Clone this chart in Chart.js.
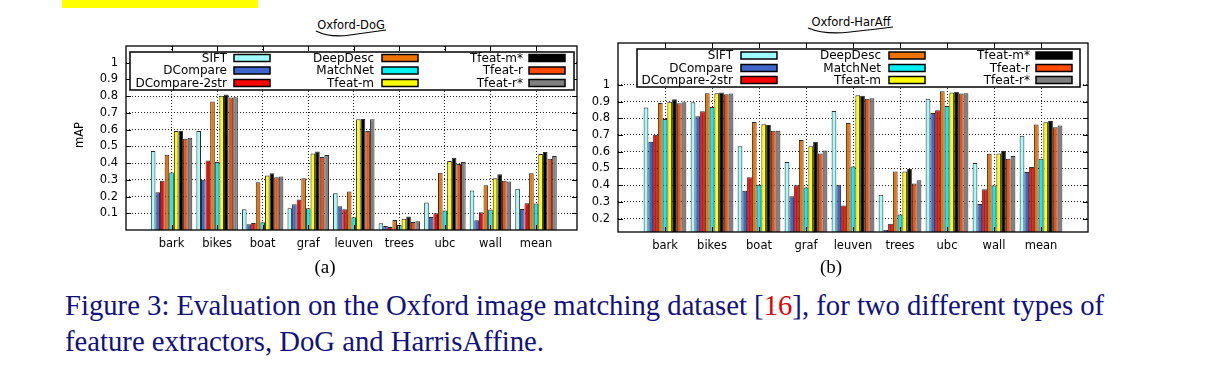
<!DOCTYPE html>
<html>
<head>
<meta charset="utf-8">
<script src="https://cdn.jsdelivr.net/npm/chart.js@4"></script>
<style>
  body { margin: 0; width: 1210px; height: 379px; background: #fff; position: relative; overflow: hidden; font-family: "DejaVu Sans", sans-serif; }
  canvas { position: absolute; top: 0; }
  #dog { left: 0; }
  #har { left: 580px; }
  .ttl { position: absolute; font-size: 11.5px; color: #000; transform: translateX(-50%); white-space: nowrap; }
  .sub { position: absolute; font-family: "Liberation Serif", serif; font-size: 19px; transform: translateX(-50%); }
  #cap { position: absolute; left: 65px; top: 287px; font-family: "Liberation Serif", serif; font-size: 28.7px; line-height: 36px; color: #12127a; white-space: nowrap; }
  #cap .ref { color: #e00000; }
  #hl { position: absolute; left: 62px; top: 0; width: 196px; height: 8px; background: #ffff00; }
</style>
</head>
<body>
<div id="hl"></div>
<div class="ttl" style="left:351px;top:18px">Oxford-DoG</div>
<div class="ttl" style="left:851px;top:15px">Oxford-HarAff</div>
<svg width="1210" height="50" style="position:absolute;left:0;top:0">
  <path d="M316 31 Q 330 38 350 35 Q 372 32 386 30" fill="none" stroke="#000" stroke-width="1.2"/>
  <path d="M808 28 Q 825 35 850 32 Q 878 29 893 27" fill="none" stroke="#000" stroke-width="1.2"/>
</svg>
<canvas id="dog" width="580" height="260"></canvas>
<canvas id="har" width="630" height="260"></canvas>
<div class="sub" style="left:325px;top:256px">(a)</div>
<div class="sub" style="left:831px;top:256px">(b)</div>
<div id="cap">Figure 3: Evaluation on the Oxford image matching dataset [<span class="ref">16</span>], for two different types of<br>feature extractors, DoG and HarrisAffine.</div>

<script>
const categories = ['bark', 'bikes', 'boat', 'graf', 'leuven', 'trees', 'ubc', 'wall', 'mean'];
const methods = ['SIFT', 'DCompare', 'DCompare-2str', 'DeepDesc', 'MatchNet', 'Tfeat-m', 'Tfeat-m*', 'Tfeat-r', 'Tfeat-r*'];
const colors = ['#9ffdfd', '#4066cc', '#ff0000', '#ef7300', '#00f2f2', '#ffff00', '#000000', '#ff4a00', '#808080'];

// Oxford-DoG
const dogSIFT      = [0.472, 0.592, 0.124, 0.130, 0.220, 0.040, 0.164, 0.236, 0.246];
const dogDCompare  = [0.226, 0.300, 0.034, 0.154, 0.142, 0.024, 0.078, 0.058, 0.126];
const dogDC2str    = [0.294, 0.416, 0.042, 0.182, 0.124, 0.018, 0.100, 0.106, 0.160];
const dogDeepDesc  = [0.450, 0.768, 0.286, 0.310, 0.230, 0.060, 0.342, 0.268, 0.340];
const dogMatchNet  = [0.344, 0.406, 0.046, 0.130, 0.076, 0.030, 0.116, 0.122, 0.158];
const dogTfeatM    = [0.592, 0.802, 0.326, 0.458, 0.662, 0.068, 0.412, 0.310, 0.454];
const dogTfeatMs   = [0.594, 0.810, 0.340, 0.470, 0.664, 0.080, 0.432, 0.334, 0.466];
const dogTfeatR    = [0.546, 0.792, 0.316, 0.436, 0.592, 0.048, 0.394, 0.294, 0.426];
const dogTfeatRs   = [0.552, 0.794, 0.320, 0.448, 0.662, 0.052, 0.406, 0.290, 0.442];

// Oxford-HarAff
const harSIFT      = [0.864, 0.896, 0.632, 0.538, 0.844, 0.342, 0.916, 0.532, 0.696];
const harDCompare  = [0.660, 0.812, 0.366, 0.334, 0.402, 0.134, 0.832, 0.288, 0.478];
const harDC2str    = [0.702, 0.842, 0.448, 0.400, 0.278, 0.170, 0.848, 0.376, 0.508];
const harDeepDesc  = [0.892, 0.950, 0.778, 0.670, 0.772, 0.482, 0.962, 0.588, 0.762];
const harMatchNet  = [0.796, 0.868, 0.402, 0.386, 0.512, 0.224, 0.874, 0.398, 0.558];
const harTfeatM    = [0.898, 0.950, 0.764, 0.632, 0.938, 0.482, 0.954, 0.590, 0.776];
const harTfeatMs   = [0.914, 0.954, 0.760, 0.660, 0.934, 0.496, 0.958, 0.604, 0.784];
const harTfeatR    = [0.890, 0.944, 0.726, 0.590, 0.916, 0.410, 0.948, 0.558, 0.746];
const harTfeatRs   = [0.896, 0.948, 0.726, 0.608, 0.920, 0.430, 0.950, 0.574, 0.756];

const dogTicks = [0.1, 0.2, 0.3, 0.4, 0.5, 0.6, 0.7, 0.8, 0.9, 1];
const harTicks = [0.2, 0.3, 0.4, 0.5, 0.6, 0.7, 0.8, 0.9, 1];

const FONT = '"DejaVu Sans", sans-serif';

// draws the box, mirrored tics, the key and the y label
const framePlugin = {
  id: 'frame',
  afterDraw(chart, args, o) {
    const ctx = chart.ctx, a = chart.chartArea;
    const xs = chart.scales.x, ys = chart.scales.y;
    ctx.save();
    ctx.strokeStyle = '#000';
    ctx.lineWidth = 1;
    ctx.beginPath();
    ys.ticks.forEach(t => {
      const p = Math.round(ys.getPixelForValue(t.value)) + 0.5;
      ctx.moveTo(a.left, p); ctx.lineTo(a.left + 5, p);
      ctx.moveTo(a.right, p); ctx.lineTo(a.right - 5, p);
    });
    xs.ticks.forEach(t => {
      const p = Math.round(xs.getPixelForValue(t.value)) + 0.5;
      ctx.moveTo(p, a.top); ctx.lineTo(p, a.top + 5);
      ctx.moveTo(p, a.bottom); ctx.lineTo(p, a.bottom - 5);
    });
    ctx.stroke();

    const L = o.key;
    const bx = a.left + L.left, by = a.top + L.top;
    const bw = (a.right + L.right) - bx, bh = L.bottom - L.top;
    ctx.fillStyle = '#fff';
    ctx.fillRect(bx, by, bw, bh);
    ctx.lineWidth = 1.5;
    ctx.strokeRect(bx, by, bw, bh);
    ctx.font = '12px ' + FONT;
    ctx.textAlign = 'right';
    ctx.textBaseline = 'middle';
    chart.data.datasets.forEach((d, i) => {
      const col = Math.floor(i / 3), row = i % 3;
      const y = a.top + L.rows[row];
      ctx.fillStyle = '#000';
      ctx.fillText(d.label, a.left + L.textR[col], y + 0.5);
      const sx = a.left + L.swX[col];
      ctx.fillStyle = d.backgroundColor;
      ctx.fillRect(sx, y - 3.5, 36, 7);
      ctx.strokeRect(sx, y - 3.5, 36, 7);
    });

    ctx.lineWidth = 1.3;
    ctx.strokeRect(a.left, a.top, a.right - a.left, a.bottom - a.top);

    if (o.ytitle) {
      ctx.translate(o.ytitle.x, o.ytitle.y);
      ctx.rotate(-Math.PI / 2);
      ctx.textAlign = 'center';
      ctx.fillStyle = '#000';
      ctx.font = '11.5px ' + FONT;
      ctx.fillText(o.ytitle.text, 0, 0);
    }
    ctx.restore();
  }
};

function makeChart(id, series, yMin, yMax, yTicks, xMax, lay, key, ytitle) {
  const datasets = methods.map((m, i) => ({
    label: m,
    data: series[i].map((v, j) => ({ x: j + 1, y: v })),
    backgroundColor: colors[i],
    borderColor: '#2a2a2a',
    borderWidth: 1,
    borderSkipped: 'start',
    categoryPercentage: 0.91,
    barPercentage: 1,
    clip: 0
  }));
  return new Chart(document.getElementById(id), {
    type: 'bar',
    data: { datasets },
    options: {
      responsive: false,
      animation: false,
      layout: { padding: { left: 0, right: lay.pr, top: lay.pt, bottom: 0 } },
      plugins: {
        legend: { display: false },
        tooltip: { enabled: false },
        frame: { key, ytitle }
      },
      scales: {
        x: {
          type: 'linear',
          min: 0,
          max: xMax,
          offset: false,
          afterBuildTicks: s => { s.ticks = categories.map((c, i) => ({ value: i + 1 })); },
          afterFit: s => { s.height = lay.xh; },
          ticks: {
            callback: (v, i) => categories[i],
            font: { family: FONT, size: 11.5 },
            color: '#000',
            padding: 7,
            autoSkip: false,
            maxRotation: 0
          },
          grid: { color: '#222', lineWidth: 1, drawTicks: false, offset: false },
          border: { display: false, dash: [1, 2] }
        },
        y: {
          min: yMin,
          max: yMax,
          afterBuildTicks: s => { s.ticks = yTicks.map(v => ({ value: v })); },
          afterFit: s => { s.width = lay.yw; },
          ticks: {
            callback: v => String(v),
            font: { family: FONT, size: 11.5 },
            color: '#000',
            padding: 8
          },
          grid: { color: '#222', lineWidth: 1, drawTicks: false },
          border: { display: false, dash: [1, 2] }
        }
      }
    },
    plugins: [framePlugin]
  });
}

makeChart('dog',
  [dogSIFT, dogDCompare, dogDC2str, dogDeepDesc, dogMatchNet, dogTfeatM, dogTfeatMs, dogTfeatR, dogTfeatRs],
  0, 1.1, dogTicks, 9.9,
  { yw: 126, pr: 3, pt: 46, xh: 30 },
  { left: 4, right: -3, top: 6, bottom: 44, rows: [12, 24.5, 37], textR: [101, 248, 397], swX: [108, 256, 403] },
  { text: 'mAP', x: 80, y: 135 });

makeChart('har',
  [harSIFT, harDCompare, harDC2str, harDeepDesc, harMatchNet, harTfeatM, harTfeatMs, harTfeatR, harTfeatRs],
  0.12, 1.25, harTicks, 10,
  { yw: 38, pr: 122, pt: 43, xh: 28 },
  { left: 19, right: -8, top: 6, bottom: 44, rows: [12.5, 25, 37], textR: [115, 263, 412], swX: [123, 271, 418] },
  null);
</script>
</body>
</html>
